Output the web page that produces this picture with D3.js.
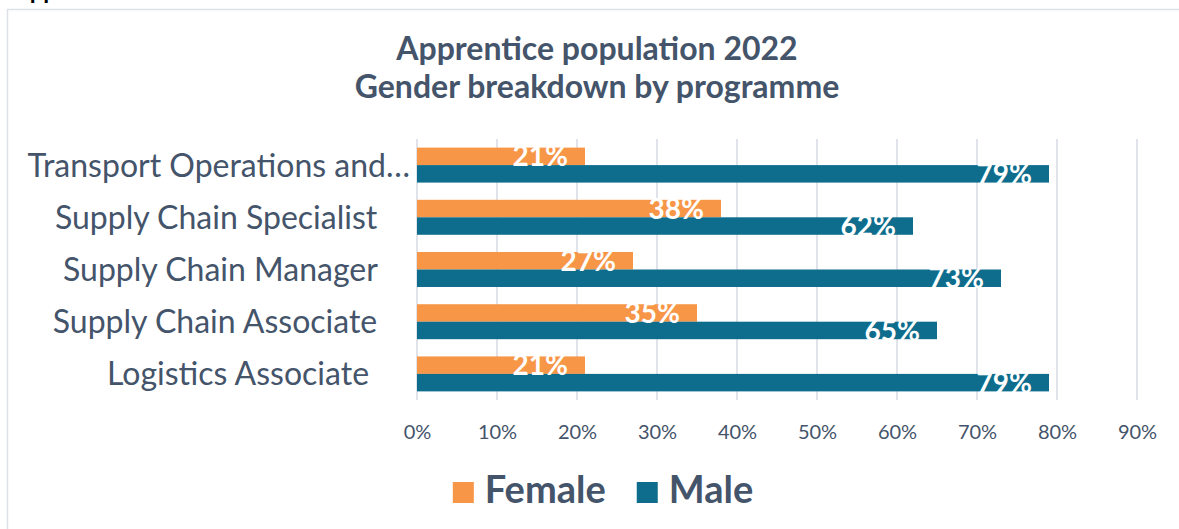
<!DOCTYPE html>
<html>
<head>
<meta charset="utf-8">
<script src="https://cdn.jsdelivr.net/npm/d3@7"></script>
<style>
  html, body { margin: 0; padding: 0; background: #fff; }
  svg { display: block; font-family: Lato, "Open Sans", sans-serif; }
</style>
</head>
<body>
<svg id="chart"></svg>
<script>
const WIDTH = 1179;
const HEIGHT = 529;

// category labels (trailing spaces as in the source sheet)
const programmes = [
    "Transport Operations and\u2026",
    "Supply Chain Specialist\u00a0\u00a0\u00a0\u00a0",
    "Supply Chain Manager\u00a0\u00a0\u00a0\u00a0",
    "Supply Chain Associate\u00a0\u00a0\u00a0\u00a0",
    "Logistics Associate\u00a0\u00a0\u00a0\u00a0\u00a0"
];
const seriesNames = ["Female", "Male"];
const female = [21, 38, 27, 35, 21];
const male = [79, 62, 73, 65, 79];
const tickValues = [0, 10, 20, 30, 40, 50, 60, 70, 80, 90];
const titleLines = ["Apprentice population 2022", "Gender breakdown by programme"];

const COLORS = { Female: "#F79646", Male: "#0E6D8D" };
const TEXT = "#44546A";

const svg = d3.select("#chart").attr("width", WIDTH).attr("height", HEIGHT);

// cut-off heading above the chart frame
svg.append("text")
    .attr("x", 13).attr("y", -1)
    .attr("font-size", 24).attr("font-weight", 700).attr("fill", "#000")
    .text("Apprentices");

// chart frame (only top & left edges are inside the picture)
svg.append("path")
    .attr("d", "M7.5,540 V9.5 H1190")
    .attr("fill", "none").attr("stroke", "#dde1e7").attr("stroke-width", 1.5);

// title
svg.append("g").selectAll("text")
    .data(titleLines)
    .join("text")
    .attr("x", 597)
    .attr("y", (d, i) => 60 + i * 38)
    .attr("text-anchor", "middle")
    .attr("font-size", 32).attr("font-weight", 700).attr("fill", TEXT)
    .text(d => d);

const x = d3.scaleLinear().domain([0, 90]).range([417, 1137]);
const y = d3.scaleBand().domain(programmes).range([139, 400]).paddingInner(0.33).paddingOuter(0.165);
const ySub = d3.scaleBand().domain(seriesNames).range([0, y.bandwidth()]);

// gridlines
svg.append("g").selectAll("line")
    .data(tickValues)
    .join("line")
    .attr("x1", d => x(d)).attr("x2", d => x(d))
    .attr("y1", 139).attr("y2", 400)
    .attr("stroke", "#e0e3e9").attr("stroke-width", 2);

// x axis tick labels
const xAxis = d3.axisBottom(x).tickValues(tickValues).tickFormat(d => d + "%").tickSize(0).tickPadding(0);
const gx = svg.append("g").attr("transform", "translate(0,439)").call(xAxis);
gx.select(".domain").remove();
gx.selectAll("text").attr("dy", 0).attr("font-size", 20).attr("fill", TEXT).attr("font-family", "Lato, sans-serif");

// category labels
const yAxis = d3.axisLeft(y).tickSize(0).tickPadding(0);
const gy = svg.append("g").attr("transform", "translate(410,0)").call(yAxis);
gy.select(".domain").remove();
gy.selectAll("text")
    .attr("font-size", 32).attr("fill", TEXT).attr("font-family", "Lato, sans-serif")
    .attr("dy", "0.36em").style("white-space", "pre");

const rows = programmes.map((p, i) => ({ programme: p, Female: female[i], Male: male[i] }));
const bars = rows.flatMap(r => seriesNames.map(s => ({ programme: r.programme, series: s, value: r[s] })));

svg.append("g").selectAll("rect")
    .data(bars)
    .join("rect")
    .attr("x", x(0))
    .attr("y", d => y(d.programme) + ySub(d.series))
    .attr("width", d => x(d.value) - x(0))
    .attr("height", ySub.bandwidth())
    .attr("fill", d => COLORS[d.series]);

// data labels (white, inside end)
svg.append("g").selectAll("text")
    .data(bars)
    .join("text")
    .attr("x", d => x(d.value) - 17)
    .attr("y", d => y(d.programme) + ySub(d.series) + ySub.bandwidth() / 2)
    .attr("dy", "0.36em")
    .attr("text-anchor", "end")
    .attr("font-size", 28).attr("font-weight", 700).attr("fill", "#fff")
    .text(d => d.value + "%");

// legend
const legend = svg.append("g");
let lx = 0;
seriesNames.forEach((s, i) => {
    const g = legend.append("g").attr("transform", `translate(${lx},0)`);
    g.append("rect").attr("x", 0).attr("y", -21).attr("width", 21).attr("height", 21).attr("fill", COLORS[s]);
    const t = g.append("text").attr("x", 32).attr("y", 0)
        .attr("font-size", 38).attr("font-weight", 700).attr("fill", TEXT).text(s);
    lx += 32 + t.node().getComputedTextLength() + 31;
});
const legendW = lx - 31;
legend.attr("transform", `translate(${603 - legendW / 2},503)`);
</script>
</body>
</html>
